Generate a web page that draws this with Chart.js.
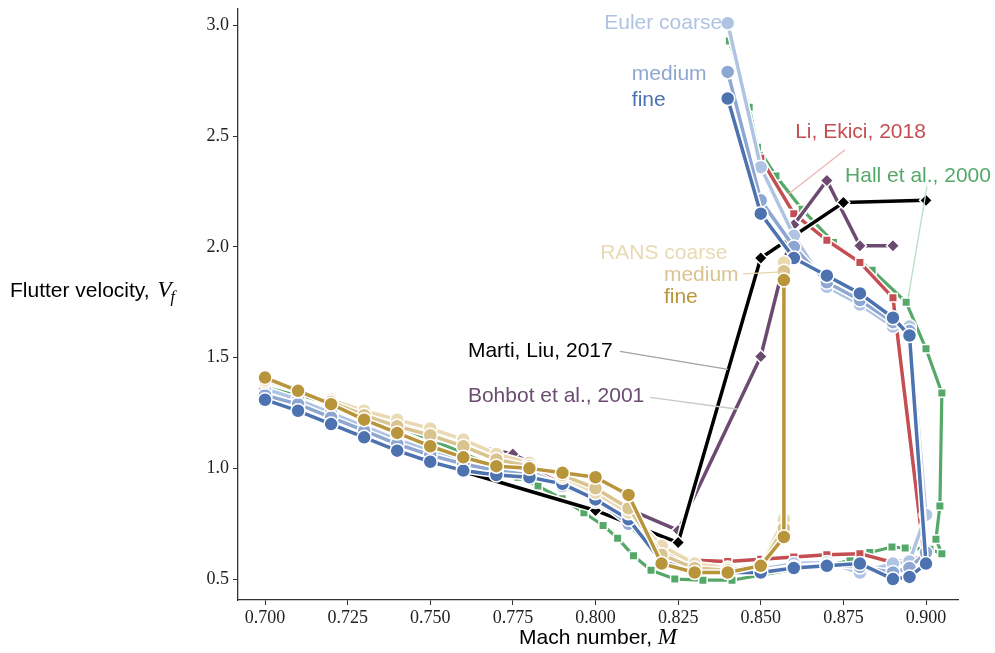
<!DOCTYPE html>
<html>
<head>
<meta charset="utf-8">
<script src="https://cdn.jsdelivr.net/npm/chart.js@4.4.1/dist/chart.umd.min.js"></script>
<style>
  html, body { margin: 0; padding: 0; background: #fff; }
  #wrap { width: 995px; height: 653px; }
</style>
</head>
<body>
<div id="wrap"><canvas id="flutter" width="995" height="653"></canvas></div>
<script>
// Flutter boundary vs Mach number: Euler / RANS meshes and reference results

const eulerMach = [0.70, 0.71, 0.72, 0.73, 0.74, 0.75, 0.76, 0.77, 0.78, 0.79, 0.80, 0.81, 0.82, 0.83, 0.84,
  0.85, 0.86, 0.87, 0.88, 0.89, 0.895, 0.90, 0.895, 0.89, 0.88, 0.87, 0.86, 0.85, 0.84];
const eulerCoarse = [1.36, 1.31, 1.25, 1.19, 1.13, 1.08, 1.04, 1.01, 0.99, 0.92, 0.85, 0.76, 0.60, 0.55, 0.545,
  0.545, 0.57, 0.575, 0.53, 0.57, 0.58, 0.79, 1.64, 1.64, 1.74, 1.82, 2.05, 2.36, 3.01];
const eulerMedium = [1.33, 1.29, 1.23, 1.17, 1.11, 1.06, 1.02, 0.99, 0.97, 0.92, 0.86, 0.75, 0.59, 0.545, 0.535,
  0.535, 0.555, 0.565, 0.555, 0.53, 0.55, 0.62, 1.62, 1.66, 1.76, 1.84, 2.00, 2.21, 2.79];
const eulerFine = [1.31, 1.26, 1.20, 1.14, 1.08, 1.03, 0.99, 0.97, 0.96, 0.93, 0.86, 0.77, 0.58, 0.54, 0.53,
  0.53, 0.55, 0.56, 0.57, 0.50, 0.51, 0.57, 1.60, 1.68, 1.79, 1.87, 1.95, 2.15, 2.67];

const ransMach = [0.70, 0.71, 0.72, 0.73, 0.74, 0.75, 0.76, 0.77, 0.78, 0.79, 0.80, 0.81, 0.82, 0.83, 0.84,
  0.85, 0.857, 0.857];
const ransCoarse = [1.39, 1.35, 1.31, 1.26, 1.22, 1.18, 1.13, 1.065, 1.025, 0.96, 0.89, 0.80, 0.65, 0.57, 0.55,
  0.56, 0.77, 1.93];
const ransMedium = [1.40, 1.35, 1.30, 1.24, 1.19, 1.15, 1.10, 1.04, 1.01, 0.97, 0.91, 0.82, 0.61, 0.55, 0.54,
  0.56, 0.73, 1.89];
const ransFine = [1.41, 1.35, 1.29, 1.22, 1.16, 1.10, 1.05, 1.01, 1.00, 0.98, 0.96, 0.88, 0.57, 0.53, 0.53,
  0.56, 0.69, 1.85];

const liMach = [0.74, 0.75, 0.76, 0.77, 0.78, 0.79, 0.80, 0.81, 0.82, 0.83, 0.84, 0.85, 0.86, 0.87, 0.88, 0.89,
  0.8995, 0.89, 0.88, 0.87, 0.86, 0.85];
const liVf = [1.20, 1.15, 1.10, 1.05, 1.00, 0.95, 0.88, 0.77, 0.61, 0.585, 0.58, 0.59, 0.60, 0.61, 0.615, 0.575,
  0.60, 1.77, 1.93, 2.03, 2.15, 2.40];

const hallMach = [0.70, 0.71, 0.72, 0.73, 0.74, 0.75, 0.76, 0.77, 0.7765, 0.7826, 0.7899, 0.7965, 0.8023, 0.8067,
  0.8115, 0.8168, 0.824, 0.8325, 0.8413, 0.8498, 0.8604, 0.8703, 0.877, 0.883, 0.8897, 0.8937, 0.9012, 0.9048,
  0.903, 0.9042, 0.9048, 0.900, 0.894, 0.8837, 0.872, 0.8625, 0.8546, 0.849, 0.8465, 0.8405];
const hallVf = [1.375, 1.335, 1.29, 1.245, 1.19, 1.13, 1.07, 1.00, 0.96, 0.92, 0.863, 0.80, 0.742, 0.685,
  0.605, 0.54, 0.50, 0.495, 0.495, 0.518, 0.545, 0.56, 0.585, 0.62, 0.645, 0.64, 0.635, 0.615,
  0.68, 0.83, 1.34, 1.54, 1.75, 1.895, 2.02, 2.17, 2.32, 2.45, 2.63, 2.93];

const martiMach = [0.75, 0.80, 0.825, 0.85, 0.875, 0.90];
const martiVf = [1.03, 0.81, 0.665, 1.95, 2.20, 2.21];

const bohbotMach = [0.75, 0.775, 0.80, 0.825, 0.85, 0.86, 0.87, 0.88, 0.89];
const bohbotVf = [1.14, 1.065, 0.88, 0.72, 1.505, 2.10, 2.30, 2.005, 2.005];

const xTicks = [0.700, 0.725, 0.750, 0.775, 0.800, 0.825, 0.850, 0.875, 0.900];
const xTickLabels = ['0.700', '0.725', '0.750', '0.775', '0.800', '0.825', '0.850', '0.875', '0.900'];
const yTicks = [0.5, 1.0, 1.5, 2.0, 2.5, 3.0];
const yTickLabels = ['0.5', '1.0', '1.5', '2.0', '2.5', '3.0'];

const COL = {
  eulerCoarse: '#afc3e2',
  eulerMedium: '#8ea7d2',
  eulerFine: '#4c72b0',
  ransCoarse: '#e9dab4',
  ransMedium: '#d9c38e',
  ransFine: '#b8943b',
  li: '#c44e52',
  hall: '#55a868',
  marti: '#000000',
  bohbot: '#6c4b70'
};

const SANS = '"Liberation Sans", Arial, sans-serif';
const SERIF = '"Liberation Serif", "Times New Roman", serif';

const pts = (xs, ys) => xs.map((x, i) => ({ x: x, y: ys[i] }));

function series(xs, ys, color, style, radius, width) {
  return {
    data: pts(xs, ys),
    showLine: true,
    borderColor: color,
    backgroundColor: color,
    borderWidth: width || 3.5,
    pointStyle: style,
    pointRadius: radius,
    pointBackgroundColor: color,
    pointBorderColor: '#ffffff',
    pointBorderWidth: 1.5,
    borderJoinStyle: 'round',
    borderCapStyle: 'round'
  };
}

// first dataset ends up on top
const datasets = [
  series(ransMach, ransFine, COL.ransFine, 'circle', 7),
  series(ransMach, ransMedium, COL.ransMedium, 'circle', 7),
  series(ransMach, ransCoarse, COL.ransCoarse, 'circle', 7),
  series(eulerMach, eulerFine, COL.eulerFine, 'circle', 7),
  series(eulerMach, eulerMedium, COL.eulerMedium, 'circle', 7),
  series(eulerMach, eulerCoarse, COL.eulerCoarse, 'circle', 7),
  series(martiMach, martiVf, COL.marti, 'rectRot', 6.5),
  series(bohbotMach, bohbotVf, COL.bohbot, 'rectRot', 6.5),
  series(liMach, liVf, COL.li, 'rect', 6),
  series(hallMach, hallVf, COL.hall, 'rect', 6, 3.2)
];

// white outline under each curve so crossing lines stay readable
const lineHalo = {
  id: 'lineHalo',
  beforeDatasetDraw(chart, args) {
    const ds = chart.data.datasets[args.index];
    const ctx = chart.ctx;
    const p = args.meta.data;
    ctx.save();
    ctx.strokeStyle = '#ffffff';
    ctx.lineWidth = ds.borderWidth + 3;
    ctx.lineJoin = 'round';
    ctx.lineCap = 'round';
    ctx.beginPath();
    p.forEach((pt, i) => (i ? ctx.lineTo(pt.x, pt.y) : ctx.moveTo(pt.x, pt.y)));
    ctx.stroke();
    ctx.restore();
  }
};

const curveLabels = [
  { text: 'Euler coarse', color: COL.eulerCoarse, x: 0.8383, y: 3.009, align: 'right' },
  { text: 'medium', color: COL.eulerMedium, x: 0.8110, y: 2.78, align: 'left' },
  { text: 'fine', color: COL.eulerFine, x: 0.8110, y: 2.663, align: 'left' },
  { text: 'Li, Ekici, 2018', color: COL.li, x: 0.8604, y: 2.52, align: 'left' },
  { text: 'Hall et al., 2000', color: COL.hall, x: 0.8755, y: 2.318, align: 'left' },
  { text: 'RANS coarse', color: COL.ransCoarse, x: 0.8014, y: 1.972, align: 'left' },
  { text: 'medium', color: COL.ransMedium, x: 0.8207, y: 1.873, align: 'left' },
  { text: 'fine', color: COL.ransFine, x: 0.8207, y: 1.775, align: 'left' },
  { text: 'Marti, Liu, 2017', color: COL.marti, x: 0.7614, y: 1.528, align: 'left' },
  { text: 'Bohbot et al., 2001', color: COL.bohbot, x: 0.7614, y: 1.326, align: 'left' }
];

const leaders = [
  { color: '#eeb3b4', from: [0.8755, 2.439], to: [0.8582, 2.237] },
  { color: '#b9dfc3', from: [0.9003, 2.273], to: [0.8946, 1.770] },
  { color: '#e6d6ac', from: [0.8446, 1.878], to: [0.8567, 1.887] },
  { color: '#a3a3a3', from: [0.8074, 1.528], to: [0.8401, 1.447] },
  { color: '#c9c9c9', from: [0.8165, 1.321], to: [0.8431, 1.267] }
];

const annotate = {
  id: 'annotate',
  afterDraw(chart) {
    const ctx = chart.ctx;
    const xs = chart.scales.x;
    const ys = chart.scales.y;
    const area = chart.chartArea;
    ctx.save();

    leaders.forEach(l => {
      ctx.strokeStyle = l.color;
      ctx.lineWidth = 1.3;
      ctx.beginPath();
      ctx.moveTo(xs.getPixelForValue(l.from[0]), ys.getPixelForValue(l.from[1]));
      ctx.lineTo(xs.getPixelForValue(l.to[0]), ys.getPixelForValue(l.to[1]));
      ctx.stroke();
    });

    ctx.font = '21px ' + SANS;
    ctx.textBaseline = 'middle';
    curveLabels.forEach(t => {
      ctx.fillStyle = t.color;
      ctx.textAlign = t.align;
      ctx.fillText(t.text, xs.getPixelForValue(t.x), ys.getPixelForValue(t.y));
    });

    // axis titles with italic math symbols
    ctx.fillStyle = '#000';
    ctx.textAlign = 'left';
    ctx.textBaseline = 'alphabetic';

    const xTitle = 'Mach number, ';
    ctx.font = '21px ' + SANS;
    const w1 = ctx.measureText(xTitle).width;
    ctx.font = 'italic 23px ' + SERIF;
    const w2 = ctx.measureText('M').width;
    const x0 = (area.left + area.right) / 2 - (w1 + w2) / 2;
    const yb = 644;
    ctx.font = '21px ' + SANS;
    ctx.fillText(xTitle, x0, yb);
    ctx.font = 'italic 23px ' + SERIF;
    ctx.fillText('M', x0 + w1, yb);

    const yTitle = 'Flutter velocity, ';
    const yl = 297;
    ctx.font = '21px ' + SANS;
    ctx.fillText(yTitle, 10, yl);
    const w3 = ctx.measureText(yTitle).width;
    ctx.font = 'italic 23px ' + SERIF;
    ctx.fillText('V', 12 + w3, yl);
    const w4 = ctx.measureText('V').width;
    ctx.font = 'italic 16px ' + SERIF;
    ctx.fillText('f', 12 + w3 + w4 - 1, yl + 5);

    ctx.restore();
  }
};

new Chart(document.getElementById('flutter'), {
  type: 'scatter',
  data: { datasets: datasets },
  options: {
    responsive: false,
    animation: false,
    devicePixelRatio: 1,
    layout: { padding: { left: 0, top: 5, right: 37, bottom: 0 } },
    plugins: { legend: { display: false }, tooltip: { enabled: false } },
    scales: {
      x: {
        type: 'linear',
        min: 0.69183,
        max: 0.90968,
        afterBuildTicks: s => { s.ticks = xTicks.map(v => ({ value: v })); },
        afterFit: s => {
          s.height = 53;
          s.paddingLeft = 0;
          s.paddingRight = 0;
        },
        grid: { display: true, drawOnChartArea: false, drawTicks: true, tickLength: 5, tickColor: '#333', tickWidth: 1 },
        border: { display: true, color: '#333', width: 1.3 },
        ticks: {
          autoSkip: false,
          maxRotation: 0,
          padding: 2,
          color: '#222',
          font: { family: SERIF, size: 18 },
          callback: (v, i) => xTickLabels[i]
        }
      },
      y: {
        type: 'linear',
        min: 0.4057,
        max: 3.0763,
        afterBuildTicks: s => { s.ticks = yTicks.map(v => ({ value: v })); },
        afterFit: s => {
          s.width = 238;
          s.paddingTop = 0;
          s.paddingBottom = 0;
        },
        grid: { display: true, drawOnChartArea: false, drawTicks: true, tickLength: 5, tickColor: '#333', tickWidth: 1 },
        border: { display: true, color: '#333', width: 1.3 },
        ticks: {
          padding: 4,
          color: '#222',
          font: { family: SERIF, size: 18 },
          callback: (v, i) => yTickLabels[i]
        }
      }
    }
  },
  plugins: [lineHalo, annotate]
});
</script>
</body>
</html>
